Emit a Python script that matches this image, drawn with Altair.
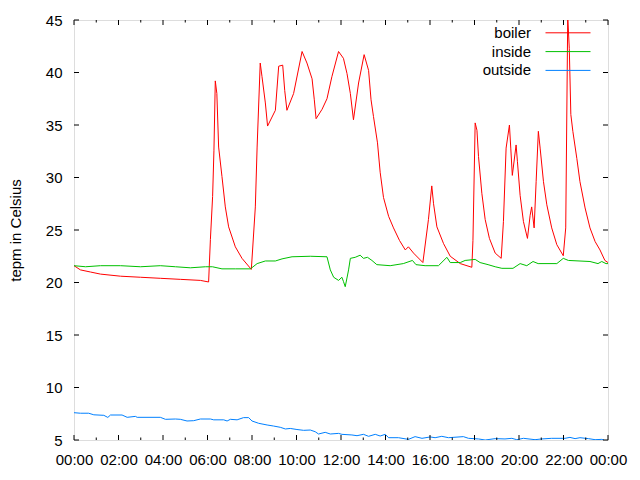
import altair as alt
import pandas as pd

# ---- data (hours since midnight, temperature in Celsius) ----
series_names = ["boiler", "inside", "outside"]
series_colors = ["#ff0000", "#00c000", "#0080ff"]

boiler_h = [0.00, 0.29, 0.74, 1.19, 2.09, 2.99, 3.88, 4.78, 5.68, 6.05, 6.13, 6.23, 6.29, 6.35, 6.42,
            6.50, 6.65, 6.80, 6.95, 7.25, 7.55, 7.97, 8.15, 8.23, 8.37, 8.45, 8.60, 8.70, 9.05, 9.20,
            9.38, 9.47, 9.57, 9.87, 10.25, 10.47, 10.70, 10.80, 10.88, 11.15, 11.37, 11.59, 11.89,
            12.11, 12.27, 12.42, 12.56, 12.79, 13.04, 13.24, 13.35, 13.46, 13.64, 13.76, 13.91, 14.14,
            14.36, 14.63, 14.89, 15.03, 15.26, 15.68, 15.93, 16.08, 16.16, 16.31, 16.61, 16.91, 17.36,
            17.88, 17.93, 18.03, 18.11, 18.18, 18.33, 18.48, 18.67, 18.93, 19.20, 19.30, 19.42, 19.57,
            19.63, 19.70, 19.87, 19.93, 20.05, 20.20, 20.38, 20.50, 20.57, 20.68, 20.77, 20.87, 20.95,
            21.10, 21.25, 21.47, 21.70, 21.99, 22.10, 22.19, 22.26, 22.33, 22.42, 22.60, 22.74, 22.97,
            23.19, 23.42, 23.64, 23.86, 24.00]
boiler_v = [21.6, 21.2, 21.0, 20.8, 20.6, 20.5, 20.4, 20.3, 20.2, 20.05, 24.1, 28.2, 32.6, 39.2, 38.0,
            32.9, 30.1, 27.2, 25.3, 23.4, 22.3, 21.25, 27.2, 32.9, 40.9, 39.6, 37.1, 34.9, 36.4, 40.6,
            40.7, 38.3, 36.4, 38.0, 42.0, 40.9, 39.4, 37.4, 35.6, 36.5, 37.5, 39.6, 42.0,
            41.35, 39.9, 38.0, 35.5, 39.0, 41.7, 40.2, 37.4, 35.8, 33.3, 30.5, 28.1, 26.3,
            25.2, 24.0, 23.1, 23.4, 22.8, 21.9, 26.0, 29.2, 27.5, 25.3, 23.7, 22.5, 21.8,
            21.45, 24.0, 35.2, 34.5, 32.0, 28.5, 26.0, 24.2, 22.8, 22.3, 25.8, 32.8, 35.0,
            32.8, 30.2, 33.1, 31.5, 28.3, 25.8, 24.2, 26.4, 27.2, 25.2, 29.6, 34.4, 32.8,
            29.6, 27.4, 25.2, 23.6, 22.55, 25.2, 45.3, 42.3, 36.0, 34.4, 31.8, 29.6, 27.1,
            25.2, 23.9, 23.1, 22.1, 21.9]

inside_h = [0.00, 0.52, 1.19, 2.09, 2.99, 3.88, 4.56, 5.23, 5.91, 6.22, 6.65, 7.25, 7.93, 8.23, 8.60,
            9.05, 9.35, 9.80, 10.62, 11.37, 11.52, 11.67, 11.89, 12.04, 12.11, 12.19, 12.34, 12.42,
            12.64, 12.86, 13.01, 13.19, 13.39, 13.61, 14.21, 14.80, 15.21, 15.37, 15.78, 16.38, 16.76,
            16.91, 17.36, 17.58, 18.03, 18.25, 18.61, 18.93, 19.23, 19.73, 20.05, 20.35, 20.63, 20.86,
            21.70, 21.99, 22.22, 23.19, 23.55, 23.72, 23.91, 24.00]
inside_v = [21.6, 21.5, 21.6, 21.6, 21.5, 21.6, 21.5, 21.4, 21.5, 21.5, 21.3, 21.3, 21.3, 21.8, 22.05,
            22.05, 22.25, 22.45, 22.5, 22.45, 21.2, 20.5, 20.2, 20.5, 20.1, 19.6, 21.2, 22.3,
            22.4, 22.6, 22.3, 22.4, 22.1, 21.7, 21.6, 21.8, 22.1, 21.7, 21.6, 21.6, 22.4,
            21.9, 21.9, 22.1, 22.2, 21.9, 21.7, 21.5, 21.35, 21.35, 21.8, 21.6, 22.0, 21.8,
            21.8, 22.3, 22.1, 22.0, 21.8, 22.0, 21.8, 21.8]

outside_h = [0.00, 0.29, 0.66, 0.89, 1.34, 1.52, 1.64, 2.16, 2.39, 2.76, 2.84, 3.88, 4.11, 4.56, 4.78,
             5.08, 5.38, 5.68, 6.13, 6.28, 6.73, 6.88, 7.03, 7.33, 7.62, 7.85, 8.00, 8.30, 8.68, 8.97,
             9.27, 9.50, 9.72, 10.02, 10.32, 10.62, 10.84, 10.99, 11.29, 11.52, 11.89, 12.04, 12.49,
             12.72, 13.01, 13.24, 13.54, 13.76, 13.99, 14.14, 14.58, 15.03, 15.33, 15.64, 16.01, 16.23,
             16.53, 16.83, 17.50, 17.73, 18.18, 18.48, 18.93, 19.37, 19.68, 19.90, 20.20, 20.72, 21.02,
             21.47, 22.07, 22.29, 22.52, 22.74, 23.12, 23.42, 23.72, 23.82]
outside_v = [7.6, 7.55, 7.55, 7.4, 7.35, 7.15, 7.38, 7.38, 7.16, 7.25, 7.16, 7.16, 6.97, 7.0, 6.97,
             6.81, 6.84, 7.0, 7.0, 6.92, 6.92, 6.81, 6.97, 6.92, 7.13, 7.13, 6.81, 6.59, 6.43, 6.33,
             6.21, 6.05, 6.1, 6.0, 5.92, 5.95, 5.79, 5.57, 5.73, 5.57, 5.63, 5.54, 5.48,
             5.41, 5.54, 5.35, 5.54, 5.38, 5.54, 5.22, 5.22, 5.06, 5.32, 5.16, 5.29, 5.22,
             5.35, 5.22, 5.32, 5.16, 5.1, 5.0, 5.13, 5.1, 5.16, 5.03, 5.16, 5.03, 5.1,
             5.16, 5.16, 5.25, 5.13, 5.22, 5.13, 5.03, 5.06, 5.0]

x_major = list(range(0, 25, 2))
x_minor = list(range(1, 24, 2))
y_ticks = list(range(5, 46, 5))

# ---- build ----
W, H = 534, 420
FONT = "Liberation Sans"

frames = []
for name, hs, vs in [("boiler", boiler_h, boiler_v), ("inside", inside_h, inside_v),
                     ("outside", outside_h, outside_v)]:
    frames.append(pd.DataFrame({"h": hs, "v": vs, "series": name}))
df = pd.concat(frames, ignore_index=True)

xscale = alt.Scale(domain=[0, 24], nice=False, zero=False)
yscale = alt.Scale(domain=[5, 45], nice=False, zero=False)

label_expr = "(datum.value % 24 < 10 ? '0' : '') + (datum.value % 24) + ':00'"

lines = alt.Chart(df).mark_line(strokeWidth=1, clip=True).encode(
    x=alt.X("h:Q", scale=xscale,
            axis=alt.Axis(values=x_major, labelExpr=label_expr, ticks=False, domain=False,
                          grid=False, title=None, labelFont=FONT, labelFontSize=15,
                          labelColor="black", labelPadding=12, labelFlush=False,
                          labelOverlap=False)),
    y=alt.Y("v:Q", scale=yscale,
            axis=alt.Axis(values=y_ticks, ticks=False, domain=False, grid=False,
                          title="tepm in Celsius", titleFont=FONT, titleFontSize=15,
                          titleFontWeight="normal", titleColor="black", titlePadding=22,
                          labelFont=FONT, labelFontSize=15, labelColor="black",
                          labelPadding=12, labelFlush=False, labelOverlap=False)),
    color=alt.Color("series:N", scale=alt.Scale(domain=series_names, range=series_colors),
                    legend=None),
)

tick_major = 5
tick_minor = 2.5

xmaj_df = pd.DataFrame({"h": x_major})
xmin_df = pd.DataFrame({"h": x_minor})
y_df = pd.DataFrame({"v": y_ticks})

layers = [lines]
for dfx, ln in [(xmaj_df, tick_major), (xmin_df, tick_minor)]:
    layers.append(alt.Chart(dfx).mark_rule(color="black", strokeWidth=1).encode(
        x=alt.X("h:Q", scale=xscale), y=alt.value(H), y2=alt.value(H - ln)))
    layers.append(alt.Chart(dfx).mark_rule(color="black", strokeWidth=1).encode(
        x=alt.X("h:Q", scale=xscale), y=alt.value(0), y2=alt.value(ln)))
layers.append(alt.Chart(y_df).mark_rule(color="black", strokeWidth=1).encode(
    y=alt.Y("v:Q", scale=yscale), x=alt.value(0), x2=alt.value(tick_major)))
layers.append(alt.Chart(y_df).mark_rule(color="black", strokeWidth=1).encode(
    y=alt.Y("v:Q", scale=yscale), x=alt.value(W), x2=alt.value(W - tick_major)))

# legend (gnuplot style: label on left, line sample on right)
for i, (name, col) in enumerate(zip(series_names, series_colors)):
    ypos = 12.8 + 18.8 * i
    layers.append(alt.Chart(pd.DataFrame({"label": [name]})).mark_text(
        align="right", baseline="middle", font=FONT, fontSize=15, color="black").encode(
        text="label:N", x=alt.value(457), y=alt.value(ypos)))
    layers.append(alt.Chart(pd.DataFrame({"label": [name]})).mark_rule(
        color=col, strokeWidth=1).encode(
        x=alt.value(471.5), x2=alt.value(516.5), y=alt.value(ypos)))

chart = alt.layer(*layers).properties(
    width=W, height=H, padding={"left": 0, "top": 5, "right": 5, "bottom": 5}
).configure_view(stroke="black", strokeWidth=1).configure(background="white")

chart.save("out.html", embed_options={"renderer": "svg", "actions": False})
